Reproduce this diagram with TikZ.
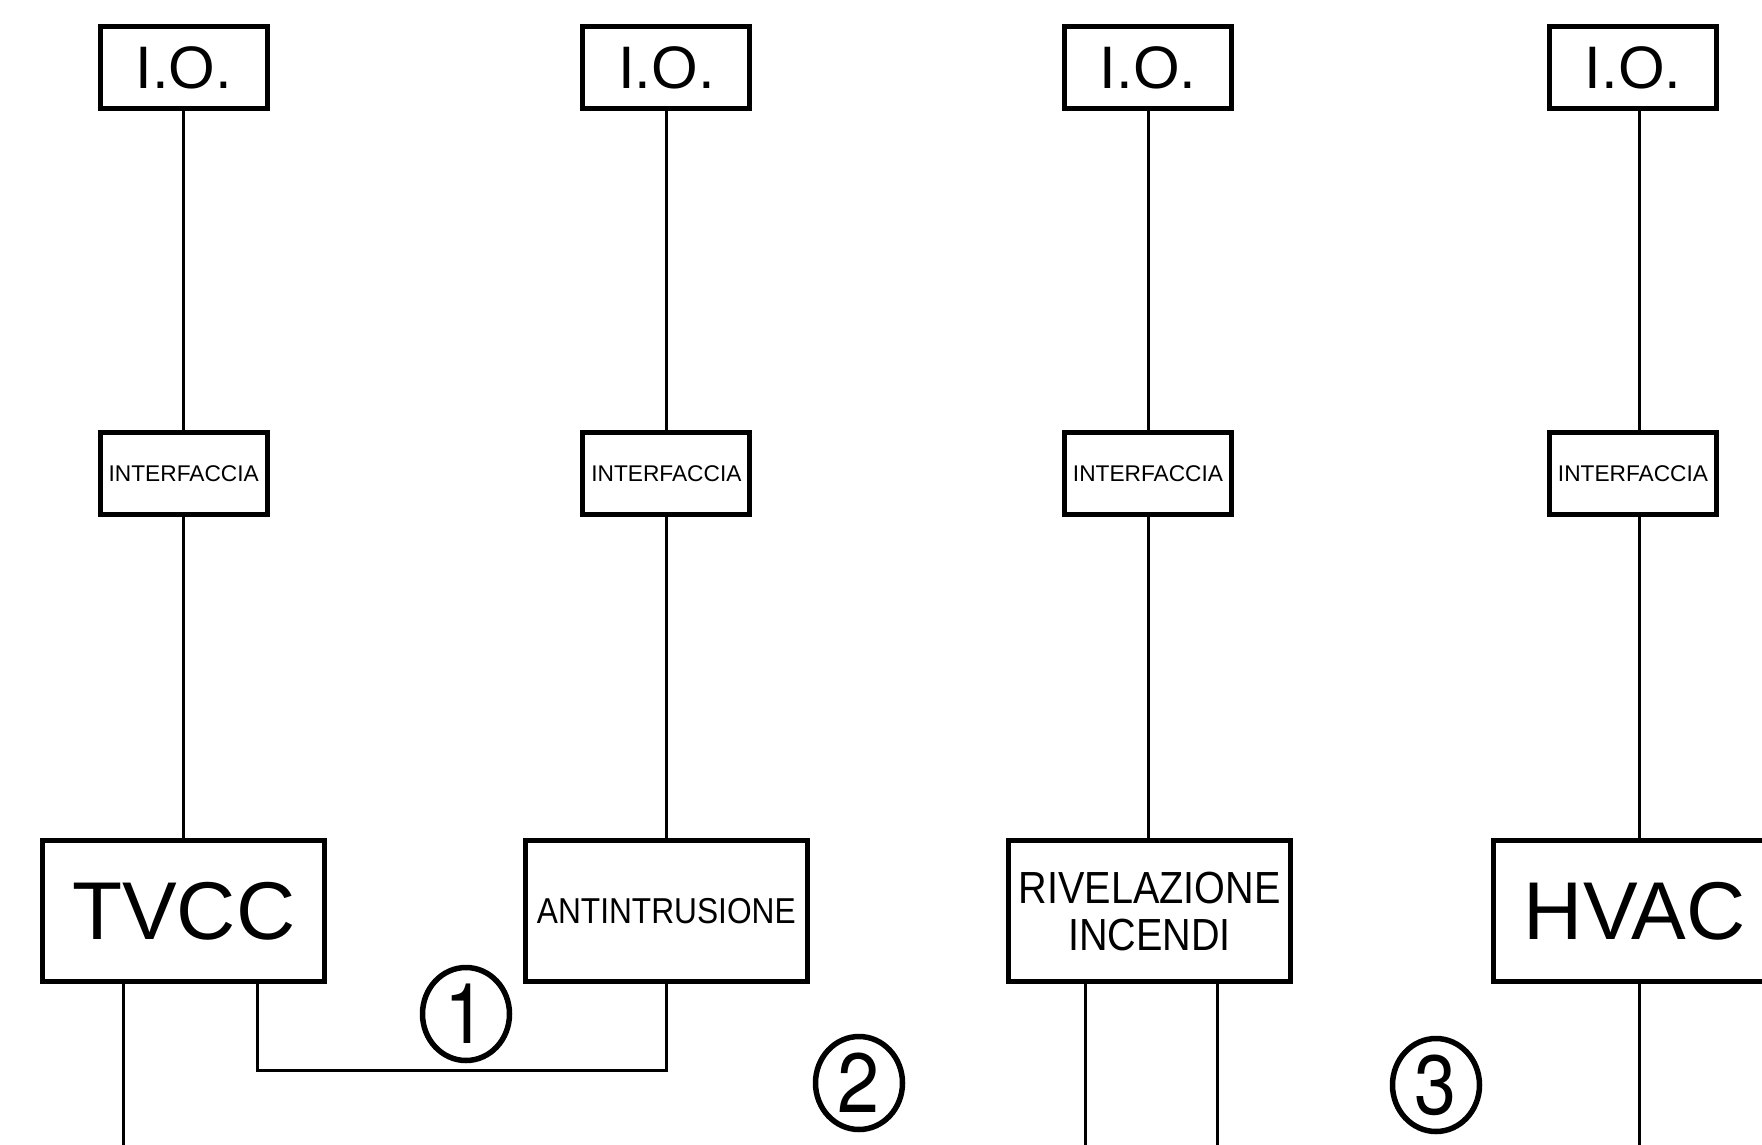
\documentclass[tikz,border=0pt]{standalone}
\usepackage{fontspec}
\usetikzlibrary{shapes.geometric}
\setmainfont{Liberation Sans}
\newfontfamily\narrowfont[FakeStretch=0.88]{Liberation Sans}
\newfontfamily\digitfont[FakeStretch=0.9]{TeX Gyre Heros}
\begin{document}
\begin{tikzpicture}[x=1pt,y=-1pt,
  boxstyle/.style={draw,line width=5pt,inner sep=0pt,align=center},
  iobox/.style={boxstyle,minimum width=167pt,minimum height=82pt,font=\fontsize{60}{60}\selectfont},
  ifbox/.style={boxstyle,minimum width=167pt,minimum height=82pt,font=\fontsize{22.7}{22.7}\selectfont},
  sysbox/.style={boxstyle,minimum width=282pt,minimum height=141pt},
  wire/.style={line width=3pt},
  numcirc/.style={draw,ellipse,line width=5.5pt,minimum width=87pt,minimum height=93pt,inner sep=0pt,font=\digitfont\fontsize{84}{84}\selectfont}
]
\path[use as bounding box,clip] (0,0) rectangle (1762,1145);
% top I.O. boxes
\node[iobox] (io1) at (183.7,68) {I.O.};
\node[iobox] (io2) at (666.4,68) {I.O.};
\node[iobox] (io3) at (1148,68) {I.O.};
\node[iobox] (io4) at (1633,68) {I.O.};
% interface boxes
\node[ifbox] (if1) at (183.7,473.6) {INTERFACCIA};
\node[ifbox] (if2) at (666.4,473.6) {INTERFACCIA};
\node[ifbox] (if3) at (1148,473.6) {INTERFACCIA};
\node[ifbox] (if4) at (1633,473.6) {INTERFACCIA};
% system boxes
\node[sysbox,font=\fontsize{82}{82}\selectfont] (s1) at (183.7,911.3) {TVCC};
\node[sysbox,font=\narrowfont\fontsize{36}{36}\selectfont] (s2) at (666.3,911.3) {ANTINTRUSIONE};
\node[sysbox,font=\narrowfont\fontsize{45}{47}\selectfont] (s3) at (1149.5,911.3) {RIVELAZIONE\\INCENDI};
\node[sysbox,font=\fontsize{82}{82}\selectfont] (s4) at (1634.7,911.3) {HVAC};
% vertical connectors
\foreach \i in {1,2,3}{
  \draw[wire] (io\i.south) -- (if\i.south |- if\i.north);
  \draw[wire] (if\i.south) -- (if\i.south |- s\i.north);
}
\coordinate (c4) at (1639.5,0);
\draw[wire] (io4.south -| c4) -- (if4.north -| c4);
\draw[wire] (if4.south -| c4) -- (s4.north -| c4);
% bottom wires
\coordinate (b1) at (123.6,1150);
\coordinate (b3a) at (1085.5,1150);
\coordinate (b3b) at (1217,1150);
\coordinate (b4) at (1639.5,1150);
\coordinate (k1) at (257.3,1070.9);
\draw[wire] (s1.south -| b1) -- (b1);
\draw[wire] (s1.south -| k1) -- (k1) -- (k1 -| s2.south) -- (s2.south);
\draw[wire] (s3.south -| b3a) -- (b3a);
\draw[wire] (s3.south -| b3b) -- (b3b);
\draw[wire] (s4.south -| b4) -- (b4);
% circled numbers
\node[numcirc] (n1) at (466,1014) {1};
\node[numcirc] (n2) at (859,1083) {2};
\node[numcirc] (n3) at (1436,1085) {3};
\end{tikzpicture}
\end{document}
